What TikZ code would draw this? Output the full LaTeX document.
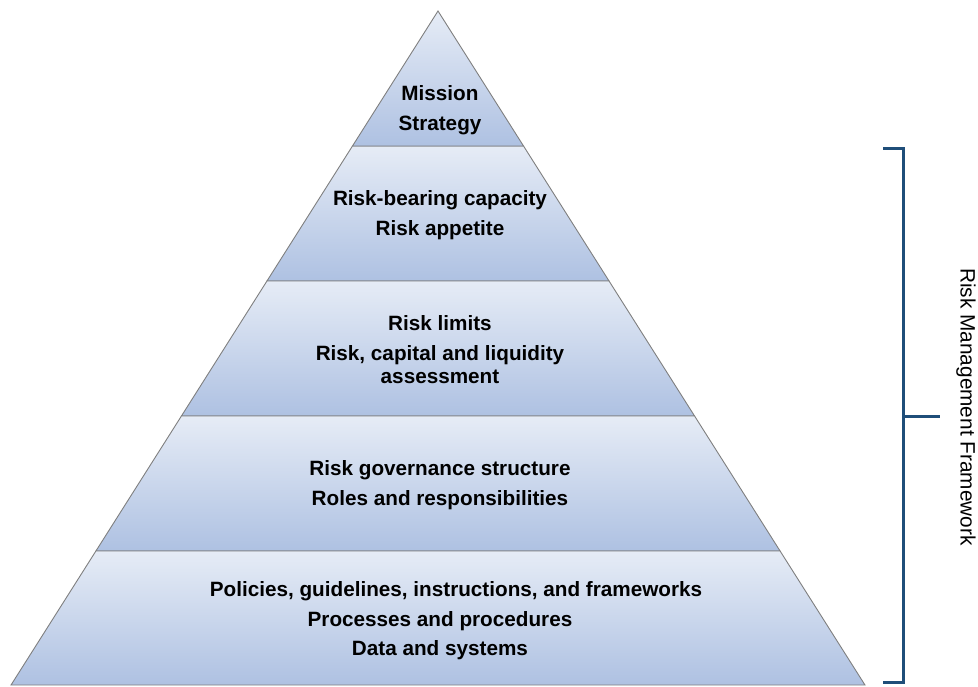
\documentclass[tikz,border=0pt]{standalone}
\usepackage{fontspec}
\setmainfont{Liberation Sans}
\usepackage{xcolor}
\usepackage{tikz}
\usetikzlibrary{positioning, calc}
\definecolor{bandtop}{HTML}{E6ECF6}
\definecolor{bandbot}{HTML}{AEC1E2}
\definecolor{bandline}{HTML}{7F7F7F}
\definecolor{bracecol}{HTML}{1F4E79}
\tikzset{
  band/.style={top color=bandtop, bottom color=bandbot, draw=bandline, line width=0.9pt},
  bandtext/.style={align=center, font=\fontsize{20.7}{23.5}\selectfont\bfseries, inner sep=0pt},
  bracket/.style={draw=bracecol, line width=3pt, line cap=butt},
  sidelabel/.style={font=\fontsize{20.8}{24}\selectfont, rotate=-90, inner sep=0pt},
}

\begin{document}
\begin{tikzpicture}[x=1pt, y=-1pt]
\useasboundingbox (0,0) rectangle (978,686);

% ── pyramid bands ────────────────────────────────────────────────────────────
\foreach \yt/\yb in {146/281, 281/416, 416/551, 551/685}
  \path[band] ({438-0.6335*(\yt-11)},\yt) -- ({438+0.6335*(\yt-11)},\yt)
    -- ({438+0.6335*(\yb-11)},\yb) -- ({438-0.6335*(\yb-11)},\yb) -- cycle;
\path[band] (438,11) -- ({438+0.6335*135},146) -- ({438-0.6335*135},146) -- cycle;

% ── band texts ───────────────────────────────────────────────────────────────
\node[bandtext] (mission) at (440,110) {Mission\\[6pt]Strategy};
\node[bandtext] (capacity) at (440,215) {Risk-bearing capacity\\[6pt]Risk appetite};
\node[bandtext] (limits) at (440,350) {Risk limits\\[6pt]Risk, capital and liquidity\\assessment};
\node[bandtext] (governance) at (440,485) {Risk governance structure\\[6pt]Roles and responsibilities};
\node[bandtext] (policies) at (440,621)
  {\hspace*{32pt}Policies, guidelines, instructions, and frameworks\\[6pt]Processes and procedures\\[6pt]Data and systems};

% ── bracket and label ────────────────────────────────────────────────────────
\coordinate (btop) at (883,148);
\coordinate (bbot) at (883,682);
\coordinate (bmid) at (940,416);
\draw[bracket] (btop) -- ++(20,0) |- (bmid);
\draw[bracket] (bbot) -- ++(20,0) -- ++(0,-266);
\node[sidelabel] (rmf) at (966,407) {Risk Management Framework};

\end{tikzpicture}
\end{document}
